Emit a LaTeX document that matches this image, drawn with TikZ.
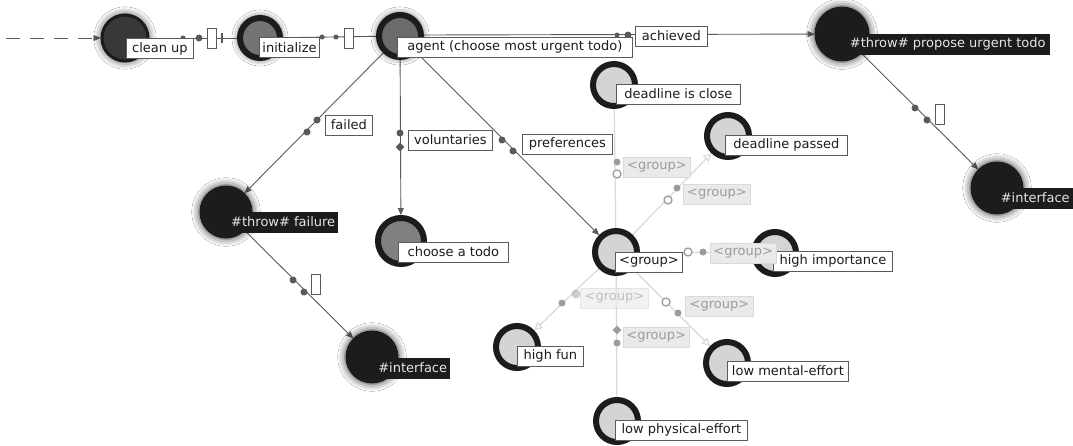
\documentclass[tikz,border=0pt]{standalone}
\usepackage{fontspec}
\setmainfont{DejaVu Sans}
\usetikzlibrary{arrows.meta,shadows.blur,shapes.geometric,backgrounds}

\definecolor{ink}{HTML}{1C1C1C}
\definecolor{edgec}{HTML}{5A5A5A}
\definecolor{faint}{HTML}{D9D9D9}
\definecolor{fainttext}{HTML}{9C9C9C}
\definecolor{faintfill}{HTML}{EAEAEA}
\definecolor{lightcore}{HTML}{D4D4D4}

\tikzset{
  labfont/.style={font=\fontsize{13}{15}\selectfont},
  lbl/.style={labfont, draw=edgec, fill=white, line width=0.8pt, text=ink,
    inner xsep=3pt, inner ysep=0pt, minimum height=20pt, anchor=west, minimum width=#1},
  lbl/.default=10pt,
  dlbl/.style={labfont, fill=ink, text=white!90!black,
    inner xsep=3pt, inner ysep=0pt, minimum height=21pt, anchor=west, minimum width=#1},
  dlbl/.default=10pt,
  flbl/.style={labfont, draw=faint, fill=faintfill, text=fainttext, line width=0.8pt,
    inner xsep=3pt, inner ysep=0pt, minimum height=20pt, anchor=west, minimum width=#1},
  flbl/.default=66pt,
  halo/.style={blur shadow={shadow xshift=0pt, shadow yshift=0pt,
    shadow blur radius=7pt, shadow opacity=75, shadow scale=1.04}},
  blob/.style={circle, fill=ink, draw=ink, line width=1pt, minimum size=#1, inner sep=0pt, halo},
  ring/.style={circle, draw=ink, line width=6pt, fill=#1, minimum size=42pt, inner sep=0pt},
  dot/.style={circle, fill=edgec, minimum size=7pt, inner sep=0pt},
  fdot/.style={circle, fill=fainttext, minimum size=7pt, inner sep=0pt},
  odot/.style={circle, draw=fainttext, fill=white, line width=1.3pt, minimum size=8pt, inner sep=0pt},
  fdiam/.style={diamond, fill=fainttext, minimum size=9pt, inner sep=0pt},
  tag/.style={draw=edgec, fill=white, line width=0.8pt, minimum width=9pt, minimum height=20pt, inner sep=0pt},
  conn/.style={draw=edgec, line width=0.9pt},
  fconn/.style={draw=faint, line width=1.2pt},
  tip/.style={-{Triangle[length=7pt,width=6pt]}},
  ftip/.style={-{Triangle[open,length=8pt,width=8pt]}},
}

\begin{document}
\begin{tikzpicture}[x=1pt,y=-1pt]
\useasboundingbox (0,0) rectangle (1073,445);

% ---- state circles ----
\node[blob=46pt, fill=black!78, draw=ink, line width=3pt] (cleanup) at (125,38) {};
\node[ring=black!55, minimum size=40pt, halo] (init) at (260,38) {};
\node[ring=black!58, halo] (agent) at (400,36) {};
\node[blob=54pt] (propose) at (842,34) {};
\node[blob=52pt] (ifaceR) at (997,188) {};
\node[blob=52pt] (failure) at (226,212) {};
\node[blob=52pt] (ifaceL) at (372,357) {};
\node[ring=black!50, minimum size=46pt] (choose) at (401,241) {};
\node[ring=lightcore] (dclose) at (614,85) {};
\node[ring=lightcore] (dpassed) at (728,136) {};
\node[ring=lightcore] (group) at (616,252) {};
\node[ring=lightcore] (highimp) at (775,253) {};
\node[ring=lightcore] (highfun) at (517,347) {};
\node[ring=lightcore] (lowmental) at (727,363) {};
\node[ring=lightcore] (lowphys) at (617,421) {};

% ---- loose ends ----
\coordinate (entry) at (6,38);

% ---- markers sitting on the connectors ----
\node[dot, minimum size=5pt] (m1) at (183,38) {};
\node[dot] (m2) at (199,38) {};
\node[tag] (t1) at (212,38) {};
\node[fill=edgec, minimum width=1.6pt, minimum height=10pt, inner sep=0pt] (k1) at (222,38) {};
\node[dot, minimum size=5pt] (m3) at (322,37) {};
\node[dot, minimum size=5pt] (m4) at (336,37) {};
\node[tag] (t2) at (349,38) {};
\node[dot, minimum size=5pt] (m5) at (617,35) {};
\node[dot] (m6) at (628,35) {};
\node[dot] (m7) at (317,120) {};
\node[dot] (m8) at (307,132) {};
\node[dot] (m9) at (400,133) {};
\node[diamond, fill=edgec, minimum size=9pt, inner sep=0pt] (m10) at (400,147) {};
\node[dot] (m11) at (502,140) {};
\node[dot] (m12) at (513,151) {};
\node[dot] (m13) at (293,280) {};
\node[dot] (m14) at (304,292) {};
\node[tag] (t3) at (316,284) {};
\node[dot] (m15) at (915,108) {};
\node[dot] (m16) at (927,120) {};
\node[tag] (t4) at (940,114) {};

% faint markers
\node[fdot] (f1) at (617,162) {};
\node[odot] (f2) at (617,174) {};
\node[fdot] (f3) at (677,188) {};
\node[odot] (f4) at (668,200) {};
\node[odot] (f5) at (688,252) {};
\node[fdot] (f6) at (703,252) {};
\node[fdot] (f7) at (562,303) {};
\node[fdot, opacity=0.5, minimum size=9pt] (f8) at (576,294) {};
\node[odot] (f9) at (666,302) {};
\node[fdot] (f10) at (678,313) {};
\node[fdiam] (f11) at (617,330) {};
\node[fdot] (f12) at (617,343) {};

% ---- labels ----
\node[lbl=67pt] (cleanupL) at (126,48.5) {clean up};
\node[lbl=60pt] (initL) at (259,47.5) {initialize};
\node[lbl=235pt] (agentL) at (397,47) {agent (choose most urgent todo)};
\node[lbl=72pt] (achL) at (635,36) {achieved};
\node[dlbl=205pt] (proposeL) at (845,44) {\#throw\# propose urgent todo};
\node[dlbl=76pt] (ifaceRL) at (997,198) {\#interface};
\node[lbl=47pt] (failedL) at (325,125) {failed};
\node[lbl=84pt] (volL) at (408,140) {voluntaries};
\node[lbl=90pt] (prefL) at (522,144) {preferences};
\node[lbl=124pt] (dcloseL) at (616,94) {deadline is close};
\node[lbl=122pt] (dpassedL) at (725,145) {deadline passed};
\node[dlbl=109pt] (failureL) at (228,222) {\#throw\# failure};
\node[lbl=110pt] (chooseL) at (398,252) {choose a todo};
\node[lbl=67pt] (groupL) at (615,262) {<group>};
\node[lbl=119pt] (highimpL) at (773,261) {high importance};
\node[flbl=67pt] (g1) at (623,167) {<group>};
\node[flbl=67pt] (g2) at (683,194) {<group>};
\node[flbl=60pt] (g3) at (710,253) {<group>};
\node[flbl=68pt, opacity=0.6] (g4) at (580,298) {<group>};
\node[flbl=68pt] (g5) at (685,306) {<group>};
\node[flbl=65pt] (g6) at (623,337) {<group>};
\node[lbl=66pt] (highfunL) at (517,356) {high fun};
\node[lbl=121pt] (lowmentalL) at (727,371) {low mental-effort};
\node[dlbl=75pt] (ifaceLL) at (375,368) {\#interface};
\node[lbl=132pt] (lowphysL) at (615,430) {low physical-effort};

% ---- connectors ----
\begin{pgfonlayer}{background}
  \fill[white] (0,0) rectangle (1073,445);
  % faint preference links
  \draw[fconn] (group) -- (dclose);
  \draw[fconn, ftip] (group) -- (dpassed);
  \draw[fconn] (group) -- (highimp);
  \draw[fconn, ftip] (group) -- (highfun);
  \draw[fconn, ftip] (group) -- (lowmental);
  \draw[fconn] (group) -- (lowphys);
  % main flow
  \draw[conn, dashed, dash pattern=on 14pt off 10pt, tip] (entry) -- (cleanup);
  \draw[conn] (cleanup) -- (init);
  \draw[conn] (init) -- (agent);
  \draw[conn, tip] (agent.east |- 0,35) -- (propose);
  \draw[conn, tip] (agent) -- (failure);
  \draw[conn, tip] (agent) -- (choose);
  \draw[conn, tip] (agent) -- (group);
  \draw[conn, tip] (failure) -- (ifaceL);
  \draw[conn, tip] (propose) -- (ifaceR);
\end{pgfonlayer}
\end{tikzpicture}
\end{document}
